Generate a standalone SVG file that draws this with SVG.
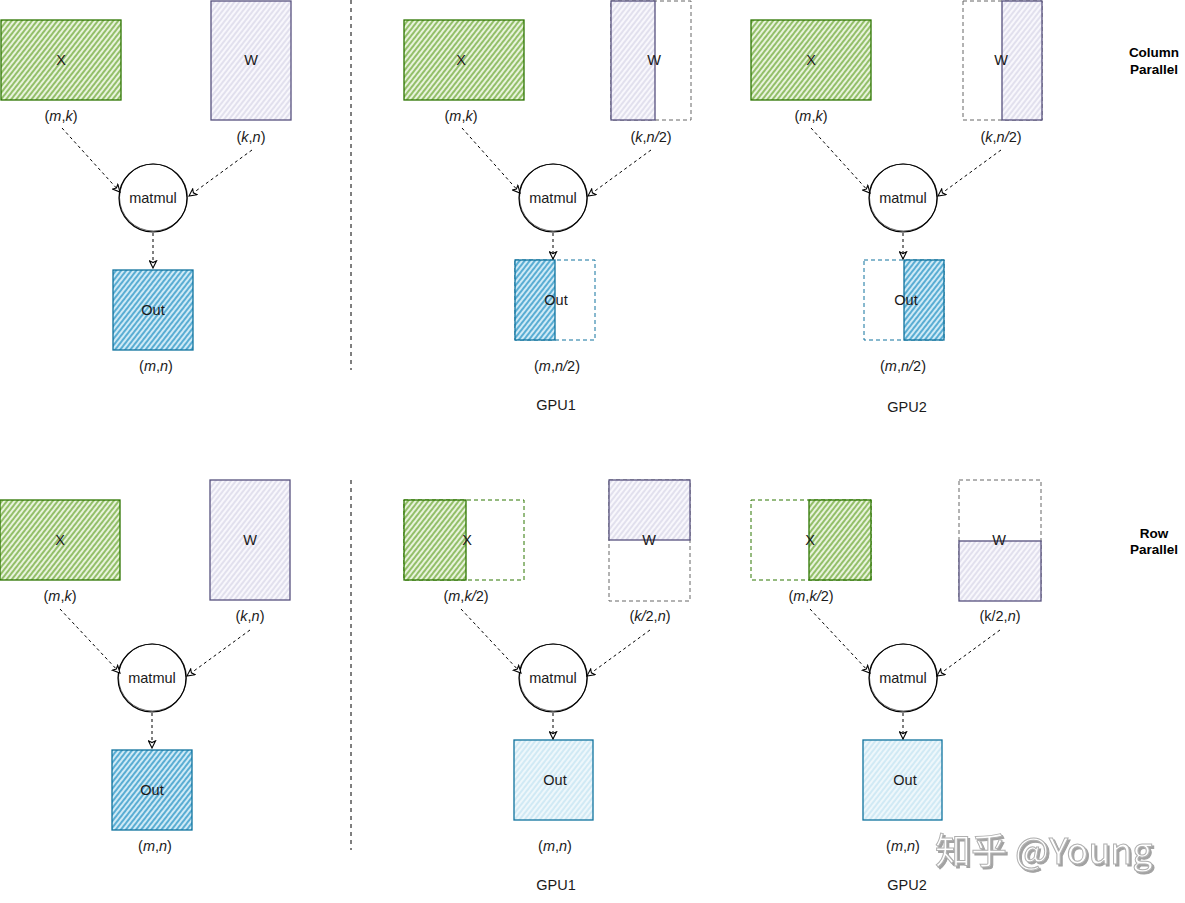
<svg xmlns="http://www.w3.org/2000/svg" width="1185" height="903" viewBox="0 0 1185 903">
<defs>
<pattern id="hG" width="4" height="4" patternUnits="userSpaceOnUse" patternTransform="rotate(38)"><rect width="4" height="4" fill="#e8f3dc"/><line x1="2" y1="0" x2="2" y2="4" stroke="#5a9c1c" stroke-width="1.2"/></pattern>
<pattern id="hP" width="4" height="4" patternUnits="userSpaceOnUse" patternTransform="rotate(38)"><rect width="4" height="4" fill="#f8f7fc"/><line x1="2" y1="0" x2="2" y2="4" stroke="#c6c3dd" stroke-width="0.9"/></pattern>
<pattern id="hB" width="4" height="4" patternUnits="userSpaceOnUse" patternTransform="rotate(38)"><rect width="4" height="4" fill="#cfeaf6"/><line x1="2" y1="0" x2="2" y2="4" stroke="#1a8cc0" stroke-width="1.3"/></pattern>
<pattern id="hL" width="4" height="4" patternUnits="userSpaceOnUse" patternTransform="rotate(38)"><rect width="4" height="4" fill="#eef7fb"/><line x1="2" y1="0" x2="2" y2="4" stroke="#acd8ec" stroke-width="0.9"/></pattern>
<marker id="arr" viewBox="0 0 10 10" refX="9" refY="5" markerWidth="9" markerHeight="9" orient="auto" markerUnits="userSpaceOnUse"><path d="M1,1 L9,5 L1,9 L3,5 Z" fill="#fff" stroke="#000" stroke-width="1.2"/></marker>
<filter id="sh" x="-10%" y="-20%" width="130%" height="150%"><feDropShadow dx="2" dy="2" stdDeviation="0.6" flood-color="#8a8a8a" flood-opacity="0.8"/></filter>
</defs>
<style>
text{font-family:"Liberation Sans",Arial,sans-serif;font-size:14.5px;fill:#1a1a1a;text-anchor:middle}
.i{font-style:italic}
.b{font-weight:bold;font-size:13.5px;fill:#000}
.gx{fill:url(#hG);stroke:#2d7600;stroke-width:1.3}
.pw{fill:url(#hP);stroke:#56517e;stroke-width:1.3}
.bo{fill:url(#hB);stroke:#10739e;stroke-width:1.3}
.lo{fill:url(#hL);stroke:#10739e;stroke-width:1.3}
.dg{fill:none;stroke:#2d7600;stroke-width:1;stroke-dasharray:4 3}
.dp{fill:none;stroke:#666;stroke-width:1;stroke-dasharray:4 3}
.db{fill:none;stroke:#10739e;stroke-width:1;stroke-dasharray:4 3}
.mm{fill:#fff;stroke:#000;stroke-width:1.2}
.mm2{fill:none;stroke:#000;stroke-width:0.6}
.c line{stroke:#000;stroke-width:1;stroke-dasharray:3 3;marker-end:url(#arr)}
.sep{stroke:#000;stroke-width:1;stroke-dasharray:4 4}
.wm{font-family:"Noto Sans CJK SC","Liberation Sans",sans-serif;font-size:36px;fill:#fff;stroke:#b0b0b0;stroke-width:1;text-anchor:start;filter:url(#sh)}
</style>
<rect width="1185" height="903" fill="#fff"/>

<g id="separators">
<line class="sep" x1="351" y1="0" x2="351" y2="370"/>
<line class="sep" x1="351" y1="480" x2="351" y2="850"/>
</g>

<!-- Column Parallel, single -->
<g id="c0_X"><rect class="gx" x="1" y="20" width="120" height="80"/><text x="61" y="65">X</text><text x="61" y="121">(<tspan class="i">m</tspan>,<tspan class="i">k</tspan>)</text></g>
<g id="c0_W"><rect class="pw" x="211" y="1" width="80" height="119"/><text x="251" y="65">W</text><text x="251" y="142">(<tspan class="i">k</tspan>,<tspan class="i">n</tspan>)</text></g>
<g id="c0_matmul"><circle class="mm" cx="153" cy="198" r="34"/><ellipse class="mm2" cx="153.5" cy="197.5" rx="34" ry="33.5"/><text x="153" y="203">matmul</text></g>
<g id="c0_Out"><rect class="bo" x="113" y="270" width="80" height="80"/><text x="153" y="315">Out</text><text x="156" y="371">(<tspan class="i">m</tspan>,<tspan class="i">n</tspan>)</text></g>

<!-- Column GPU1 -->
<g id="c1_X"><rect class="gx" x="404" y="20" width="120" height="80"/><text x="461" y="65">X</text><text x="461" y="121">(<tspan class="i">m</tspan>,<tspan class="i">k</tspan>)</text></g>
<g id="c1_W"><rect class="dp" x="611" y="1" width="80" height="119"/><rect class="pw" x="611" y="1" width="44" height="119"/><text x="654" y="65">W</text><text x="651" y="142">(<tspan class="i">k</tspan>,<tspan class="i">n/</tspan>2)</text></g>
<g id="c1_matmul"><circle class="mm" cx="553" cy="198" r="34"/><ellipse class="mm2" cx="553.5" cy="197.5" rx="34" ry="33.5"/><text x="553" y="203">matmul</text></g>
<g id="c1_Out"><rect class="db" x="515" y="260" width="80" height="80"/><rect class="bo" x="515" y="260" width="40" height="80"/><text x="556" y="305">Out</text><text x="557" y="371">(<tspan class="i">m</tspan>,<tspan class="i">n/</tspan>2)</text></g>
<g id="c1_label"><text x="556" y="410">GPU1</text></g>

<!-- Column GPU2 -->
<g id="c2_X"><rect class="gx" x="751" y="20" width="120" height="80"/><text x="811" y="65">X</text><text x="811" y="121">(<tspan class="i">m</tspan>,<tspan class="i">k</tspan>)</text></g>
<g id="c2_W"><rect class="dp" x="963" y="1" width="79" height="119"/><rect class="pw" x="1002" y="1" width="40" height="119"/><text x="1001" y="65">W</text><text x="1001" y="142">(<tspan class="i">k</tspan>,<tspan class="i">n/</tspan>2)</text></g>
<g id="c2_matmul"><circle class="mm" cx="903" cy="198" r="34"/><ellipse class="mm2" cx="903.5" cy="197.5" rx="34" ry="33.5"/><text x="903" y="203">matmul</text></g>
<g id="c2_Out"><rect class="db" x="864" y="260" width="80" height="80"/><rect class="bo" x="904" y="260" width="40" height="80"/><text x="906" y="305">Out</text><text x="903" y="371">(<tspan class="i">m</tspan>,<tspan class="i">n/</tspan>2)</text></g>
<g id="c2_label"><text x="907" y="412">GPU2</text></g>

<g id="col_title"><text class="b" x="1154" y="57">Column</text><text class="b" x="1154" y="74">Parallel</text></g>

<!-- Row Parallel, single -->
<g id="r0_X"><rect class="gx" x="0" y="500" width="120" height="80"/><text x="60" y="545">X</text><text x="60" y="601">(<tspan class="i">m</tspan>,<tspan class="i">k</tspan>)</text></g>
<g id="r0_W"><rect class="pw" x="210" y="480" width="80" height="120"/><text x="250" y="545">W</text><text x="250" y="621">(<tspan class="i">k</tspan>,<tspan class="i">n</tspan>)</text></g>
<g id="r0_matmul"><circle class="mm" cx="152" cy="678" r="34"/><ellipse class="mm2" cx="152.5" cy="677.5" rx="34" ry="33.5"/><text x="152" y="683">matmul</text></g>
<g id="r0_Out"><rect class="bo" x="112" y="750" width="80" height="80"/><text x="152" y="795">Out</text><text x="155" y="851">(<tspan class="i">m</tspan>,<tspan class="i">n</tspan>)</text></g>

<!-- Row GPU1 -->
<g id="r1_X"><rect class="dg" x="404" y="500" width="120" height="80"/><rect class="gx" x="404" y="500" width="62" height="80"/><text x="467" y="545">X</text><text x="466" y="601">(<tspan class="i">m</tspan>,<tspan class="i">k/</tspan>2)</text></g>
<g id="r1_W"><rect class="dp" x="609" y="480" width="81" height="121"/><rect class="pw" x="609" y="480" width="81" height="60"/><text x="649" y="545">W</text><text x="650" y="621">(<tspan class="i">k/</tspan>2,<tspan class="i">n</tspan>)</text></g>
<g id="r1_matmul"><circle class="mm" cx="553" cy="678" r="34"/><ellipse class="mm2" cx="553.5" cy="677.5" rx="34" ry="33.5"/><text x="553" y="683">matmul</text></g>
<g id="r1_Out"><rect class="lo" x="514" y="740" width="79" height="80"/><text x="555" y="785">Out</text><text x="555" y="851">(<tspan class="i">m</tspan>,<tspan class="i">n</tspan>)</text></g>
<g id="r1_label"><text x="556" y="890">GPU1</text></g>

<!-- Row GPU2 -->
<g id="r2_X"><rect class="dg" x="751" y="500" width="120" height="80"/><rect class="gx" x="809" y="500" width="62" height="80"/><text x="810" y="545">X</text><text x="811" y="601">(<tspan class="i">m</tspan>,<tspan class="i">k/</tspan>2)</text></g>
<g id="r2_W"><rect class="dp" x="959" y="480" width="82" height="120"/><rect class="pw" x="959" y="541" width="82" height="60"/><text x="999" y="545">W</text><text x="1000" y="621">(k/2,<tspan class="i">n</tspan>)</text></g>
<g id="r2_matmul"><circle class="mm" cx="903" cy="678" r="34"/><ellipse class="mm2" cx="903.5" cy="677.5" rx="34" ry="33.5"/><text x="903" y="683">matmul</text></g>
<g id="r2_Out"><rect class="lo" x="863" y="740" width="79" height="80"/><text x="905" y="785">Out</text><text x="903" y="851">(<tspan class="i">m</tspan>,<tspan class="i">n</tspan>)</text></g>
<g id="r2_label"><text x="907" y="890">GPU2</text></g>

<g id="row_title"><text class="b" x="1154" y="538">Row</text><text class="b" x="1154" y="554">Parallel</text></g>

<g id="connectors" class="c">
<line x1="62" y1="128" x2="120" y2="192"/>
<line x1="252" y1="150" x2="189" y2="196"/>
<line x1="153" y1="233" x2="153" y2="268"/>
<line x1="462" y1="128" x2="520" y2="193"/>
<line x1="651" y1="150" x2="588" y2="196"/>
<line x1="553" y1="233" x2="553" y2="259"/>
<line x1="811" y1="128" x2="870" y2="193"/>
<line x1="1001" y1="150" x2="938" y2="196"/>
<line x1="903" y1="233" x2="903" y2="259"/>
<line x1="60" y1="609" x2="120" y2="673"/>
<line x1="250" y1="630" x2="187" y2="676"/>
<line x1="152" y1="713" x2="152" y2="748"/>
<line x1="461" y1="609" x2="521" y2="673"/>
<line x1="650" y1="630" x2="587" y2="676"/>
<line x1="553" y1="713" x2="553" y2="739"/>
<line x1="810" y1="609" x2="870" y2="673"/>
<line x1="1000" y1="630" x2="937" y2="676"/>
<line x1="903" y1="713" x2="903" y2="739"/>
</g>

<g id="watermark"><text class="wm" x="935" y="864">知乎 @Young</text></g>
</svg>
